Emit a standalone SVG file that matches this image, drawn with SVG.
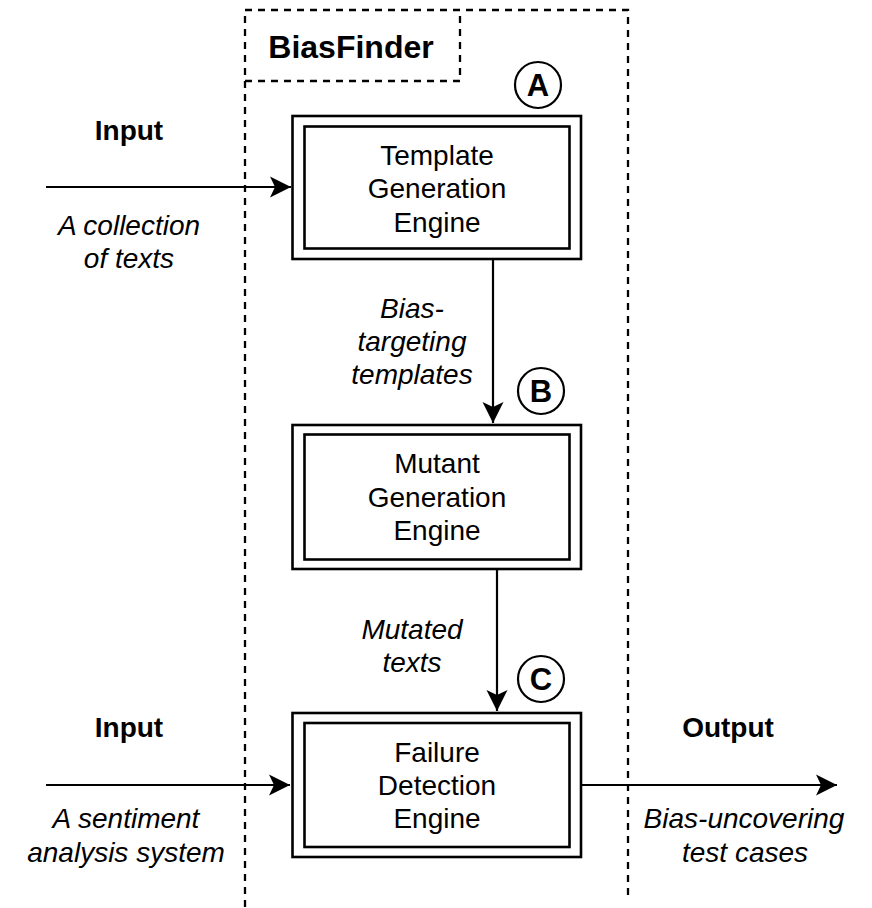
<svg xmlns="http://www.w3.org/2000/svg" width="872" height="908" viewBox="0 0 872 908">
  <style>
    text { font-family: "Liberation Sans", Arial, Helvetica, sans-serif; fill: #000; text-anchor: middle; }
    .body { font-size: 28px; }
    .em { font-size: 28px; font-style: italic; }
    .strong { font-size: 28px; font-weight: bold; }
    .mark { font-size: 31px; font-weight: bold; }
    .title { font-size: 32px; font-weight: bold; }
    .dash { fill: none; stroke: #000; stroke-width: 2.3; stroke-dasharray: 7 6; }
    .frame { fill: #fff; stroke: #000; stroke-width: 2.6; }
    .badge { fill: #fff; stroke: #000; stroke-width: 2.2; }
    .wire { fill: none; stroke: #000; stroke-width: 2.2; }
  </style>
  <defs>
    <marker id="arrow" markerUnits="userSpaceOnUse" markerWidth="24" markerHeight="24" viewBox="-22 -12 24 24" refX="0" refY="0" orient="auto">
      <path d="M0,0 L-21,-10.5 L-16,0 L-21,10.5 Z" fill="#000"/>
    </marker>
  </defs>

  <rect width="872" height="908" fill="#fff"/>

  <!-- BiasFinder container: open-bottomed dashed frame with title tab -->
  <g id="biasfinder">
    <path class="dash" d="M245,907 V10 H628 V900"/>
    <path class="dash" d="M245,81 H460 V10"/>
    <text class="title" x="351" y="58">BiasFinder</text>
  </g>

  <!-- connectors -->
  <g id="connectors">
    <path class="wire" d="M46,187 H291" marker-end="url(#arrow)"/>
    <path class="wire" d="M493,259 V423" marker-end="url(#arrow)"/>
    <path class="wire" d="M497,569 V711" marker-end="url(#arrow)"/>
    <path class="wire" d="M46,785 H290" marker-end="url(#arrow)"/>
    <path class="wire" d="M581,785 H837" marker-end="url(#arrow)"/>
  </g>

  <!-- engines -->
  <g id="template-engine">
    <rect class="frame" x="292.5" y="116" width="288.5" height="143"/>
    <rect class="frame" x="304.5" y="126.5" width="265" height="122"/>
    <text class="body" x="437" y="165">Template</text>
    <text class="body" x="437" y="198">Generation</text>
    <text class="body" x="437" y="232">Engine</text>
  </g>

  <g id="mutant-engine">
    <rect class="frame" x="292.5" y="425" width="288.5" height="144"/>
    <rect class="frame" x="304.5" y="434.5" width="265" height="125"/>
    <text class="body" x="437" y="473">Mutant</text>
    <text class="body" x="437" y="507">Generation</text>
    <text class="body" x="437" y="540">Engine</text>
  </g>

  <g id="failure-engine">
    <rect class="frame" x="292.5" y="713" width="288.5" height="144"/>
    <rect class="frame" x="304.5" y="723" width="265" height="124"/>
    <text class="body" x="437" y="762">Failure</text>
    <text class="body" x="437" y="795">Detection</text>
    <text class="body" x="437" y="828">Engine</text>
  </g>

  <!-- step badges -->
  <g id="badge-a">
    <circle class="badge" cx="538" cy="85" r="23"/>
    <text class="mark" x="538" y="96">A</text>
  </g>
  <g id="badge-b">
    <circle class="badge" cx="541" cy="391" r="23"/>
    <text class="mark" x="541" y="402">B</text>
  </g>
  <g id="badge-c">
    <circle class="badge" cx="541" cy="679" r="23"/>
    <text class="mark" x="541" y="690">C</text>
  </g>

  <!-- edge labels -->
  <g id="label-templates">
    <text class="em" x="412" y="318">Bias-</text>
    <text class="em" x="412" y="351">targeting</text>
    <text class="em" x="412" y="384">templates</text>
  </g>
  <g id="label-mutated">
    <text class="em" x="412" y="639">Mutated</text>
    <text class="em" x="412" y="672">texts</text>
  </g>

  <!-- inputs and output -->
  <g id="input-texts">
    <text class="strong" x="129" y="140">Input</text>
    <text class="em" x="129" y="235">A collection</text>
    <text class="em" x="129" y="268">of texts</text>
  </g>
  <g id="input-system">
    <text class="strong" x="129" y="737">Input</text>
    <text class="em" x="126" y="828">A sentiment</text>
    <text class="em" x="126" y="862">analysis system</text>
  </g>
  <g id="output-cases">
    <text class="strong" x="728" y="737">Output</text>
    <text class="em" x="744" y="828">Bias-uncovering</text>
    <text class="em" x="745" y="862">test cases</text>
  </g>
</svg>
